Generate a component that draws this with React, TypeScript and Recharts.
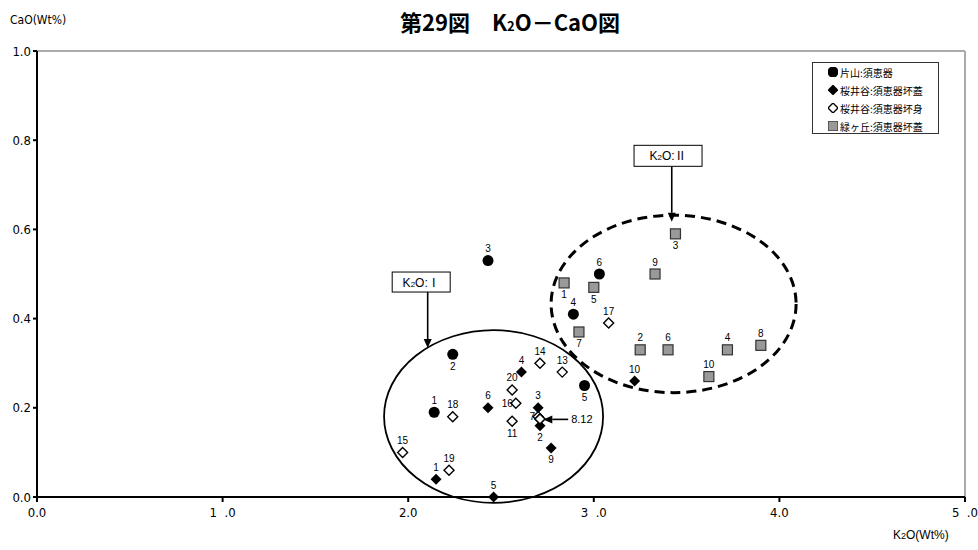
import React from 'react';
import {
  ScatterChart, Scatter, XAxis, YAxis, ReferenceArea, ReferenceLine, ReferenceDot,
} from 'recharts';

const xTicks = [0, 1, 2, 3, 4, 5];
const xTickLabels = ['0.0', '1\u00a0\u00a0.0', '2.0', '3\u00a0\u00a0.0', '4.0', '5\u00a0\u00a0.0'];
const yTicks = [0, 0.2, 0.4, 0.6, 0.8, 1.0];

// 片山:須恵器
const katayama = [
  { n: '1', x: 2.14, y: 0.19 },
  { n: '2', x: 2.24, y: 0.32 },
  { n: '3', x: 2.43, y: 0.53 },
  { n: '4', x: 2.89, y: 0.41 },
  { n: '5', x: 2.95, y: 0.25 },
  { n: '6', x: 3.03, y: 0.50 },
];

// 桜井谷:須恵器坏蓋
const sakuraiLid = [
  { n: '1', x: 2.15, y: 0.04 },
  { n: '2', x: 2.71, y: 0.16 },
  { n: '3', x: 2.70, y: 0.20 },
  { n: '4', x: 2.61, y: 0.28 },
  { n: '5', x: 2.46, y: 0.0 },
  { n: '6', x: 2.43, y: 0.20 },
  { n: '9', x: 2.77, y: 0.11 },
  { n: '10', x: 3.22, y: 0.26 },
];

// 桜井谷:須恵器坏身
const sakuraiBody = [
  { n: '7', x: 2.70, y: 0.18 },
  { n: '8', x: 2.71, y: 0.175 },
  { n: '11', x: 2.56, y: 0.17 },
  { n: '12', x: 2.71, y: 0.175 },
  { n: '13', x: 2.83, y: 0.28 },
  { n: '14', x: 2.71, y: 0.30 },
  { n: '15', x: 1.97, y: 0.10 },
  { n: '16', x: 2.58, y: 0.21 },
  { n: '17', x: 3.08, y: 0.39 },
  { n: '18', x: 2.24, y: 0.18 },
  { n: '19', x: 2.22, y: 0.06 },
  { n: '20', x: 2.56, y: 0.24 },
];

// 緑ヶ丘:須恵器坏蓋
const midorigaoka = [
  { n: '1', x: 2.84, y: 0.48 },
  { n: '2', x: 3.25, y: 0.33 },
  { n: '3', x: 3.44, y: 0.59 },
  { n: '4', x: 3.72, y: 0.33 },
  { n: '5', x: 3.00, y: 0.47 },
  { n: '6', x: 3.40, y: 0.33 },
  { n: '7', x: 2.92, y: 0.37 },
  { n: '8', x: 3.90, y: 0.34 },
  { n: '9', x: 3.33, y: 0.50 },
  { n: '10', x: 3.62, y: 0.27 },
];

const seriesNames = ['片山:須恵器', '桜井谷:須恵器坏蓋', '桜井谷:須恵器坏身', '緑ヶ丘:須恵器坏蓋'];

// where each point number sits: t = above, b = below, l = left, - = none
const katayamaSide: Record<string, string> = { 1: 't', 2: 'b', 3: 't', 4: 't', 5: 'b', 6: 't' };
const lidSide: Record<string, string> = { 1: 't', 2: 'b', 3: 't', 4: 't', 5: 't', 6: 't', 9: 'b', 10: 't' };
const bodySide: Record<string, string> = {
  7: 'l', 8: '-', 11: 'b', 12: '-', 13: 't', 14: 't', 15: 't', 16: 'l', 17: 't', 18: 't', 19: 't', 20: 't',
};
const midoriSide: Record<string, string> = { 1: 'b', 2: 't', 3: 'b', 4: 't', 5: 'b', 6: 't', 7: 'b', 8: 't', 9: 't', 10: 't' };

// group outlines and callouts (data units)
const groupI = { x1: 1.87, x2: 3.05, y1: -0.013, y2: 0.374 };
const groupII = { x1: 2.77, x2: 4.09, y1: 0.234, y2: 0.632 };
const calloutI = { x: 2.07, y: 0.482, text: 'Ⅰ', from: { x: 2.105, y: 0.46 }, to: { x: 2.105, y: 0.334 } };
const calloutII = { x: 3.40, y: 0.765, text: 'Ⅱ', from: { x: 3.42, y: 0.741 }, to: { x: 3.42, y: 0.617 } };
const noteArrow = { from: { x: 2.862, y: 0.174 }, to: { x: 2.728, y: 0.174 }, text: '8.12' };

const NUM_FONT = '"Liberation Sans", Arial, sans-serif';
const NARROW_FONT = '"Liberation Sans Narrow", "DejaVu Sans Condensed", "Liberation Sans", sans-serif';
const JP_FONT = '"Noto Sans CJK JP", "Noto Sans", sans-serif';

function Marker({ kind, cx, cy }: { kind: string; cx: number; cy: number }) {
  if (kind === 'circle') return <circle cx={cx} cy={cy} r={5.5} fill="#000" />;
  if (kind === 'diamond') {
    const d = 5.5;
    return <polygon points={`${cx},${cy - d} ${cx + d},${cy} ${cx},${cy + d} ${cx - d},${cy}`} fill="#000" />;
  }
  if (kind === 'hollow') {
    const d = 5;
    return (
      <polygon
        points={`${cx},${cy - d} ${cx + d},${cy} ${cx},${cy + d} ${cx - d},${cy}`}
        fill="#fff" stroke="#000" strokeWidth={1.4}
      />
    );
  }
  return <rect x={cx - 5} y={cy - 5} width={10} height={10} fill="#999" stroke="#333" strokeWidth={1.2} />;
}

const makeShape = (kind: string, sides: Record<string, string>) => (props: any) => {
  const { cx, cy } = props;
  const n = props.payload?.n ?? props.n;
  const side = sides[n] || 't';
  let label = null;
  if (side === 't' || side === 'b') {
    label = (
      <text x={cx} y={side === 't' ? cy - 8.5 : cy + 15.5} textAnchor="middle"
        fontSize={10} fontFamily={NUM_FONT} fill="#000">{n}</text>
    );
  } else if (side === 'l') {
    label = (
      <text x={cx - 3} y={cy + 3.5} textAnchor="end" fontSize={10} fontFamily={NUM_FONT} fill="#000">{n}</text>
    );
  }
  return (
    <g>
      <Marker kind={kind} cx={cx} cy={cy} />
      {label}
    </g>
  );
};

const ellipseShape = (dashed: boolean) => (p: any) => (
  <ellipse
    cx={p.x + p.width / 2} cy={p.y + p.height / 2} rx={Math.abs(p.width) / 2} ry={Math.abs(p.height) / 2}
    fill="none" stroke="#000" strokeWidth={dashed ? 3 : 1.8}
    strokeDasharray={dashed ? '10 6' : undefined}
  />
);

const arrowShape = (text?: string) => (p: any) => {
  const { x1, y1, x2, y2 } = p;
  const ang = Math.atan2(y2 - y1, x2 - x1);
  const len = 9;
  const w = 4;
  const bx = x2 - len * Math.cos(ang);
  const by = y2 - len * Math.sin(ang);
  const px = -Math.sin(ang) * w;
  const py = Math.cos(ang) * w;
  return (
    <g>
      <line x1={x1} y1={y1} x2={bx} y2={by} stroke="#000" strokeWidth={1.6} />
      <polygon points={`${x2},${y2} ${bx + px},${by + py} ${bx - px},${by - py}`} fill="#000" />
      {text && (
        <text x={x1 + 3} y={y1 + 4} fontSize={11} fontFamily={NUM_FONT} fill="#000">{text}</text>
      )}
    </g>
  );
};

const calloutShape = (numeral: string, w: number, h: number) => (p: any) => {
  const { cx, cy } = p;
  return (
    <g>
      <rect x={cx - w / 2} y={cy - h / 2} width={w} height={h} fill="#fff" stroke="#000" strokeWidth={1} />
      <text x={cx} y={cy + 4.5} textAnchor="middle" fontSize={12} fontFamily={NUM_FONT} fill="#000">
        K<tspan fontSize={8}>2</tspan>O:<tspan fontFamily={JP_FONT} fontSize={12}>{numeral}</tspan>
      </text>
    </g>
  );
};

const legendMarks = ['circle', 'diamond', 'hollow', 'square'];

function LegendBox() {
  return (
    <div style={{
      position: 'absolute', left: 812, top: 62, width: 127, height: 72,
      border: '1px solid #333', background: '#fff', boxSizing: 'border-box',
    }}>
      {seriesNames.map((name, i) => (
        <div key={name} style={{ position: 'absolute', left: 15, top: 1 + i * 18, height: 16, display: 'flex', alignItems: 'center' }}>
          <svg width={10} height={10} style={{ marginRight: 2 }}>
            <Marker kind={legendMarks[i]} cx={5} cy={5} />
          </svg>
          <span style={{ fontFamily: JP_FONT, fontSize: 10, color: '#000', whiteSpace: 'nowrap' }}>{name}</span>
        </div>
      ))}
    </div>
  );
}

export default function App() {
  return (
    <div style={{ position: 'absolute', left: 0, top: 0, width: 978, height: 550, background: '#fff', overflow: 'hidden' }}>
      <div style={{
        position: 'absolute', left: 0, width: 1020, top: 5, textAlign: 'center',
        fontFamily: JP_FONT, fontWeight: 700, fontSize: 22, color: '#000',
      }}>
        第29図　K<span style={{ fontSize: 13 }}>2</span>O－CaO図
      </div>
      <div style={{ position: 'absolute', left: 10, top: 13, fontFamily: NARROW_FONT, fontStretch: 'condensed', fontSize: 12, color: '#000' }}>
        CaO(Wt%)
      </div>
      <div style={{ position: 'absolute', left: 893, top: 528, fontFamily: NUM_FONT, fontSize: 12, color: '#000' }}>
        K<span style={{ fontSize: 9 }}>2</span>O(Wt%)
      </div>
      <ScatterChart width={978} height={550} margin={{ top: 51, right: 13, bottom: 23, left: 7 }}>
        <XAxis
          type="number" dataKey="x" domain={[0, 5]} ticks={xTicks} height={30}
          tickFormatter={(v: number) => xTickLabels[v]}
          axisLine={{ stroke: '#000', strokeWidth: 2 }} tickLine={{ stroke: '#000', strokeWidth: 2 }} tickSize={5}
          tick={{ fontSize: 13, fill: '#000', fontFamily: NARROW_FONT, dy: 4, style: { fontStretch: 'condensed' } }}
        />
        <YAxis
          type="number" dataKey="y" domain={[0, 1]} ticks={yTicks} width={30}
          tickFormatter={(v: number) => v.toFixed(1)}
          axisLine={{ stroke: '#000', strokeWidth: 2 }} tickLine={{ stroke: '#000', strokeWidth: 2 }} tickSize={4}
          tick={{ fontSize: 13, fill: '#000', fontFamily: NARROW_FONT, style: { fontStretch: 'condensed' } }}
        />
        <ReferenceLine y={1} stroke="#aaa" strokeWidth={2} />
        <ReferenceLine x={5} stroke="#aaa" strokeWidth={2} />
        <ReferenceArea {...groupI} ifOverflow="visible" shape={ellipseShape(false)} />
        <ReferenceArea {...groupII} ifOverflow="visible" shape={ellipseShape(true)} />
        <ReferenceLine segment={[calloutI.from, calloutI.to]} shape={arrowShape()} />
        <ReferenceLine segment={[calloutII.from, calloutII.to]} shape={arrowShape()} />
        <ReferenceDot x={calloutI.x} y={calloutI.y} r={1} shape={calloutShape(calloutI.text, 58, 20)} />
        <ReferenceDot x={calloutII.x} y={calloutII.y} r={1} shape={calloutShape(calloutII.text, 68, 21)} />
        <Scatter name={seriesNames[0]} data={katayama} shape={makeShape('circle', katayamaSide)} isAnimationActive={false} />
        <Scatter name={seriesNames[1]} data={sakuraiLid} shape={makeShape('diamond', lidSide)} isAnimationActive={false} />
        <Scatter name={seriesNames[2]} data={sakuraiBody} shape={makeShape('hollow', bodySide)} isAnimationActive={false} />
        <Scatter name={seriesNames[3]} data={midorigaoka} shape={makeShape('square', midoriSide)} isAnimationActive={false} />
        <ReferenceLine segment={[noteArrow.from, noteArrow.to]} shape={arrowShape(noteArrow.text)} />
      </ScatterChart>
      <LegendBox />
    </div>
  );
}
